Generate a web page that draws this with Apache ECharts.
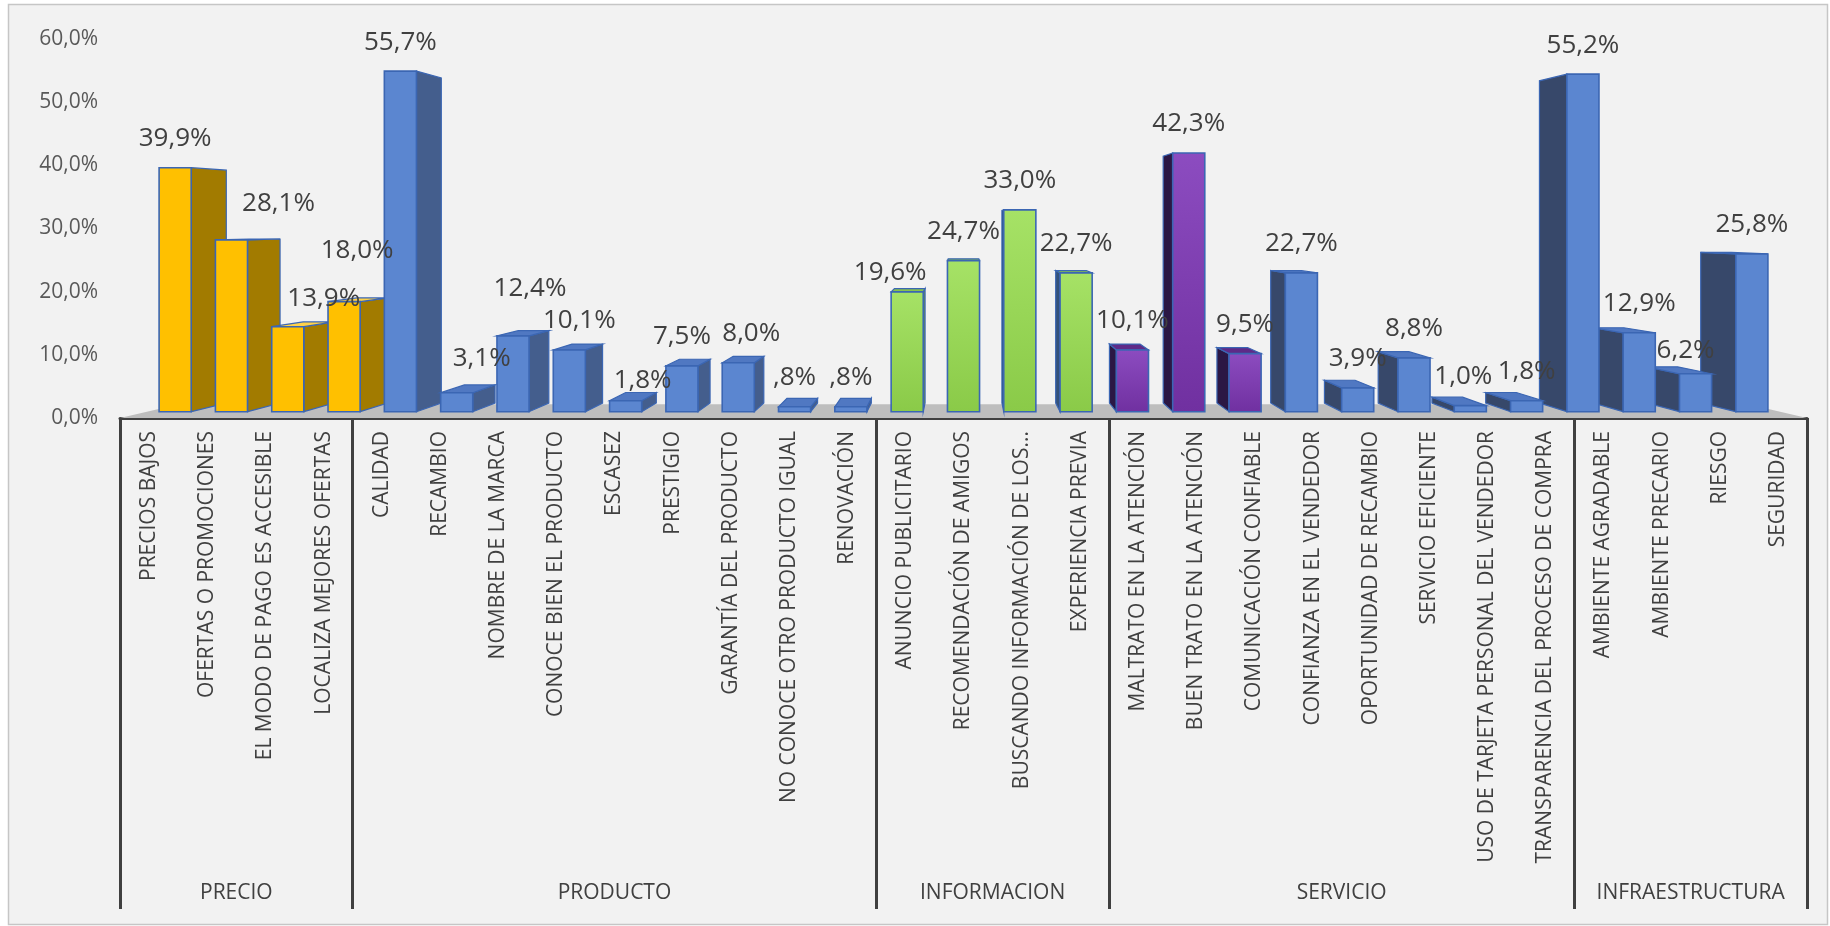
<!DOCTYPE html>
<html>
<head>
<meta charset="utf-8">
<script src="https://cdn.jsdelivr.net/npm/echarts@6/dist/echarts.min.js"></script>
<style>
  html, body { margin: 0; padding: 0; background: #ffffff; }
  #chart { width: 1830px; height: 926px; }
</style>
</head>
<body>
<div id="chart"></div>
<script>
// ---- data ----
const groupNames = ['PRECIO', 'PRODUCTO', 'INFORMACION', 'SERVICIO', 'INFRAESTRUCTURA'];

const precioItems = ['PRECIOS BAJOS', 'OFERTAS O PROMOCIONES', 'EL MODO DE PAGO ES ACCESIBLE', 'LOCALIZA MEJORES OFERTAS'];
const precioValues = [39.9, 28.1, 13.9, 18.0];

const productoItems = ['CALIDAD', 'RECAMBIO', 'NOMBRE DE LA MARCA', 'CONOCE BIEN EL PRODUCTO', 'ESCASEZ',
  'PRESTIGIO', 'GARANTÍA DEL PRODUCTO', 'NO CONOCE OTRO PRODUCTO IGUAL', 'RENOVACIÓN'];
const productoValues = [55.7, 3.1, 12.4, 10.1, 1.8, 7.5, 8.0, 0.8, 0.8];

const informacionItems = ['ANUNCIO PUBLICITARIO', 'RECOMENDACIÓN DE AMIGOS', 'BUSCANDO INFORMACIÓN DE LOS...', 'EXPERIENCIA PREVIA'];
const informacionValues = [19.6, 24.7, 33.0, 22.7];

const servicioItems = ['MALTRATO EN LA ATENCIÓN', 'BUEN TRATO EN LA ATENCIÓN', 'COMUNICACIÓN CONFIABLE',
  'CONFIANZA EN EL VENDEDOR', 'OPORTUNIDAD DE RECAMBIO', 'SERVICIO EFICIENTE',
  'USO DE TARJETA PERSONAL DEL VENDEDOR', 'TRANSPARENCIA DEL PROCESO DE COMPRA'];
const servicioValues = [10.1, 42.3, 9.5, 22.7, 3.9, 8.8, 1.0, 1.8];

const infraItems = ['AMBIENTE AGRADABLE', 'AMBIENTE PRECARIO', 'RIESGO', 'SEGURIDAD'];
const infraValues = [55.2, 12.9, 6.2, 25.8];

const yMin = 0, yMax = 60, yStep = 10;

// ---- derived tables ----
const groupItems = [precioItems, productoItems, informacionItems, servicioItems, infraItems];
const groupValues = [precioValues, productoValues, informacionValues, servicioValues, infraValues];
const categories = [].concat(...groupItems);
const values = [].concat(...groupValues);
const groupSizes = groupItems.map(g => g.length);
const total = categories.length;

const groupBounds = [0];
groupSizes.forEach(n => groupBounds.push(groupBounds[groupBounds.length - 1] + n));
const groupMids = groupSizes.map((n, i) => groupBounds[i] + n / 2);

// ---- styling ----
const TONES = {
  gold:   { front: '#FFC000', right: '#A27B00', left: '#7A5C00', top: '#FFD24A' },
  blue:   { front: '#5B86D0', right: '#445E8D', left: '#37486A', top: '#5078C2' },
  green:  { front: ['#A6E266', '#8ACA48'], right: '#6B9A3C', left: '#34527A', top: '#86C24C' },
  purple: { front: ['#8C4CC0', '#7030A0'], right: '#4A2270', left: '#2B1744', top: '#5E2A88' }
};
const toneOfCategory = [].concat(
  Array(4).fill('gold'),
  Array(9).fill('blue'),
  Array(4).fill('green'),
  Array(3).fill('purple'), Array(5).fill('blue'),
  Array(4).fill('blue')
);
// a few value labels sit off-centre from their column (pixel nudges)
const labelNudge = {
  1: [47, -7], 2: [36, 1], 3: [13, -22], 5: [25, -5], 6: [17, -18],
  7: [10, 0], 8: [17, 9], 10: [13, 0], 13: [-17, 10], 23: [-7, 0], 27: [-10, 6]
};
const EDGE = '#3B66B3';
const TEXT = '#404040';
const FONT = 'Open Sans';

// perspective of the 3D columns: faces recede toward a vanishing point
const K_FRONT = 0.968;      // front face depth factor
const K_BACK = 0.924;       // back face depth factor
const K_FLOOR = 0.93;       // back edge of the floor
const HORIZON = 31.2;       // value level of the vanishing point
const BAR_RATIO = 0.57;     // front width as share of a category band
const LABEL_GAP = 29;

function fmtLabel(v) {
  let s = v.toFixed(1).replace('.', ',');
  if (s.startsWith('0,')) s = s.slice(1);
  return s + '%';
}

function fill(c) {
  if (Array.isArray(c)) {
    return new echarts.graphic.LinearGradient(0, 0, 0, 1, [
      { offset: 0, color: c[0] }, { offset: 1, color: c[1] }
    ]);
  }
  return c;
}

function renderColumn(params, api) {
  const i = api.value(0);
  const v = api.value(1);
  const cs = params.coordSys;
  const vx = cs.x + cs.width / 2;
  const vy = api.coord([0, HORIZON])[1];
  const top = api.coord([i, v]);
  const base = api.coord([i, 0]);
  const half = api.size([1, 0])[0] * BAR_RATIO / 2;
  const x0 = top[0] - half, x1 = top[0] + half;
  const yT = top[1], yB = base[1];
  const P = (x, y, k) => [vx + (x - vx) * k, vy + (y - vy) * k];

  const tone = TONES[toneOfCategory[i]];
  const order = (2000 - Math.round(Math.abs(top[0] - vx))) * 4;
  const children = [];

  const fTL = P(x0, yT, K_FRONT), fTR = P(x1, yT, K_FRONT), fBR = P(x1, yB, K_FRONT), fBL = P(x0, yB, K_FRONT);
  const bTL = P(x0, yT, K_BACK), bTR = P(x1, yT, K_BACK), bBR = P(x1, yB, K_BACK), bBL = P(x0, yB, K_BACK);

  if (x1 < vx) {
    children.push({ type: 'polygon', shape: { points: [fTR, bTR, bBR, fBR] },
      style: { fill: tone.right, stroke: EDGE, lineWidth: 1.2 }, z2: order });
  }
  if (x0 > vx) {
    children.push({ type: 'polygon', shape: { points: [fTL, bTL, bBL, fBL] },
      style: { fill: tone.left, stroke: EDGE, lineWidth: 1.2 }, z2: order });
  }
  if (yT > vy) {
    children.push({ type: 'polygon', shape: { points: [fTL, fTR, bTR, bTL] },
      style: { fill: tone.top, stroke: EDGE, lineWidth: 1.2 }, z2: order + 1 });
  }
  children.push({ type: 'polygon', shape: { points: [fTL, fTR, fBR, fBL] },
    style: { fill: fill(tone.front), stroke: EDGE, lineWidth: 1.6 }, z2: order + 2 });

  const nudge = labelNudge[i] || [0, 0];
  children.push({
    type: 'text',
    x: (fTL[0] + fTR[0]) / 2 + nudge[0],
    y: fTL[1] - LABEL_GAP + nudge[1],
    z2: 100000,
    style: { text: fmtLabel(v), fill: TEXT, fontSize: 26, fontFamily: FONT,
      align: 'center', verticalAlign: 'middle' }
  });
  return { type: 'group', children };
}

function renderFloor(params, api) {
  const cs = params.coordSys;
  const vx = cs.x + cs.width / 2;
  const vy = api.coord([0, HORIZON])[1];
  const a = api.coord([0, 0]);
  const b = api.coord([total, 0]);
  const P = (p, k) => [vx + (p[0] - vx) * k, vy + (p[1] - vy) * k];
  return {
    type: 'polygon',
    shape: { points: [a, b, P(b, K_FLOOR), P(a, K_FLOOR)] },
    style: { fill: '#BEBEBE' },
    z2: 0
  };
}

const chart = echarts.init(document.getElementById('chart'), null, { renderer: 'canvas' });

chart.setOption({
  animation: false,
  backgroundColor: '#ffffff',
  graphic: [{
    type: 'rect', z: -10, silent: true,
    shape: { x: 8.5, y: 4.5, width: 1819, height: 920 },
    style: { fill: '#F2F2F2', stroke: '#C6C6C6', lineWidth: 1.5 }
  }],
  grid: { left: 120, right: 23, top: 39, bottom: 508, containLabel: false },
  xAxis: [{
    type: 'category',
    data: categories,
    boundaryGap: true,
    axisLine: { show: true, lineStyle: { color: '#404040', width: 3 } },
    axisTick: { show: false },
    axisLabel: {
      interval: 0, rotate: 90, margin: 13,
      fontSize: 21, fontFamily: FONT, color: TEXT
    },
    splitLine: { show: false }
  }, {
    type: 'value',
    min: 0, max: total,
    position: 'bottom',
    axisLine: { show: false },
    splitLine: { show: false },
    axisTick: {
      show: true, customValues: groupBounds, length: 491,
      lineStyle: { color: '#404040', width: 3 }
    },
    axisLabel: {
      show: true, customValues: groupMids, margin: 465,
      fontSize: 21, fontFamily: FONT, color: TEXT,
      formatter: v => groupNames[groupMids.indexOf(v)] || ''
    }
  }],
  yAxis: {
    type: 'value',
    min: yMin, max: yMax, interval: yStep,
    axisLine: { show: false },
    axisTick: { show: false },
    splitLine: { show: false },
    axisLabel: {
      margin: 22, fontSize: 21, fontFamily: FONT, color: '#595959',
      formatter: v => v.toFixed(1).replace('.', ',') + '%'
    }
  },
  series: [{
    type: 'custom',
    name: 'floor',
    xAxisIndex: 1, yAxisIndex: 0,
    silent: true,
    data: [[0, 0]],
    renderItem: renderFloor,
    z: 1
  }, {
    type: 'custom',
    name: 'columns',
    xAxisIndex: 0, yAxisIndex: 0,
    data: values.map((v, i) => [i, v]),
    encode: { x: 0, y: 1 },
    renderItem: renderColumn,
    clip: false,
    z: 2
  }]
});
</script>
</body>
</html>
